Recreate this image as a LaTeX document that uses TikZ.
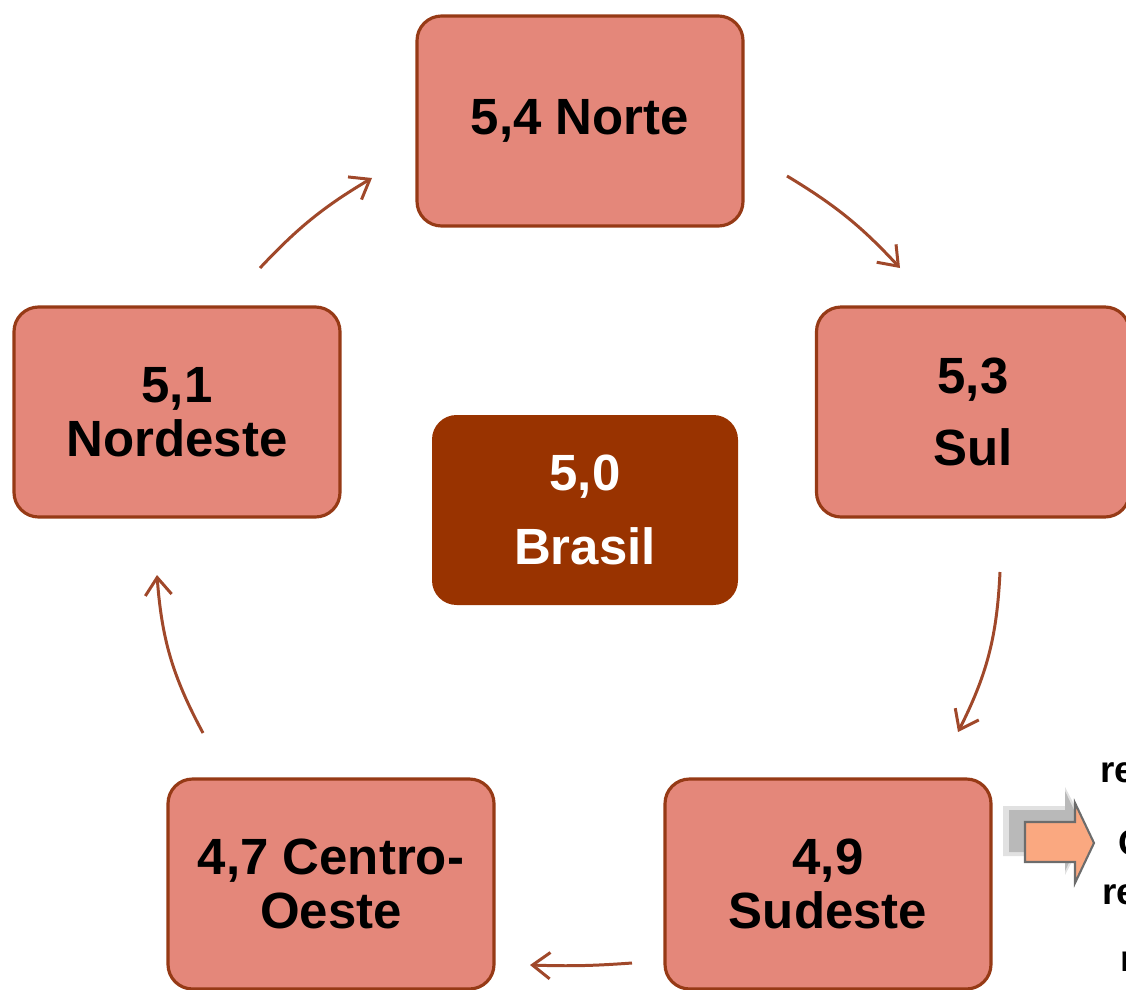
\documentclass[tikz,border=0pt]{standalone}
\usepackage{fontspec}
\setmainfont{Liberation Sans}
\usetikzlibrary{arrows.meta}
\definecolor{boxfill}{RGB}{228,135,122}
\definecolor{boxline}{RGB}{150,58,22}
\definecolor{brasil}{RGB}{153,51,0}
\definecolor{arrowc}{RGB}{160,72,42}
\definecolor{blockfill}{RGB}{250,168,128}
\tikzset{
  region/.style={draw=boxline, line width=1.8pt, fill=boxfill, rounded corners=14pt,
    minimum width=326*0.02cm, minimum height=210*0.02cm, align=center,
    font=\fontsize{29}{31}\selectfont\bfseries, inner sep=0pt},
  central/.style={fill=brasil, rounded corners=14pt, text=white,
    minimum width=306*0.02cm, minimum height=190*0.02cm, align=center,
    font=\fontsize{29}{38}\selectfont\bfseries, inner sep=0pt},
  cyc/.style={draw=arrowc, line width=1.7pt, -{Straight Barb[length=10pt,width=15pt,line width=1.7pt]}},
  frag/.style={font=\fontsize{21}{24}\selectfont\bfseries, anchor=west, inner sep=0pt},
}
\begin{document}
\begin{tikzpicture}[x=0.02cm,y=-0.02cm]
\useasboundingbox (0,0) rectangle (1126,990);
\node[region] (norte) at (580,121) {5,4 Norte};
\node[region, minimum width=313*0.02cm] (sul) at (973,412) {5,3\\[0.35em]Sul};
\node[region] (nordeste) at (177,412) {5,1\\Nordeste};
\node[central] (brasil) at (585,510) {5,0\\[0.15em]Brasil};
\node[region] (centro) at (331,884) {4,7 Centro-\\Oeste};
\node[region] (sudeste) at (828,884) {4,9\\Sudeste};
% cycle arrow end points
\coordinate (a1s) at (260,268); \coordinate (a1e) at (372,178);
\coordinate (a2s) at (787,176); \coordinate (a2e) at (900,268);
\coordinate (a3s) at (1000,572); \coordinate (a3e) at (958,732);
\coordinate (a4s) at (632,963); \coordinate (a4e) at (530,965);
\coordinate (a5s) at (203,733); \coordinate (a5e) at (157,575);
\draw[cyc] (a1s) to[bend left=8] (a1e);
\draw[cyc] (a2s) to[bend left=8] (a2e);
\draw[cyc] (a3s) to[bend left=12] (a3e);
\draw[cyc] (a4s) to[bend left=3] (a4e);
\draw[cyc] (a5s) to[bend left=12] (a5e);
% block arrow with shadow
\begin{scope}[shift={(-10,-12)}]
  \fill[gray!30, opacity=0.8] (1013,818) -- (1075,818) -- (1075,799) -- (1098,843)
    -- (1075,887) -- (1075,868) -- (1013,868) -- cycle;
  \fill[gray!55] (1019,822) -- (1075,822) -- (1075,803) -- (1094,843)
    -- (1075,883) -- (1075,864) -- (1019,864) -- cycle;
\end{scope}
\draw[draw=gray!85!black, fill=blockfill, line width=1.2pt]
  (1025,822) -- (1075,822) -- (1075,803) -- (1094,843)
  -- (1075,883) -- (1075,862) -- (1025,862) -- cycle;
% clipped text fragments at the right edge
\node[frag] (f1) at (1100,773) {re};
\node[frag] (f2) at (1118,843) {O};
\node[frag] (f3) at (1102,895) {re};
\node[frag] (f4) at (1120,962) {n};
\end{tikzpicture}
\end{document}
